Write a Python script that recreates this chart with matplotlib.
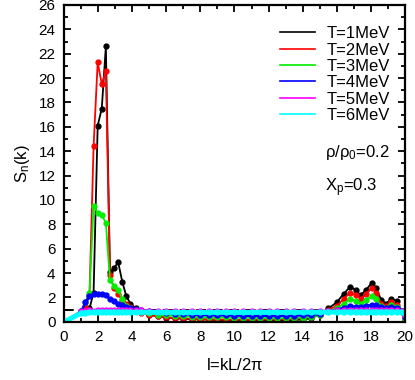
import matplotlib
matplotlib.use("Agg")
import matplotlib.pyplot as plt
from matplotlib.ticker import MultipleLocator

plt.rcParams['font.family'] = ['Liberation Sans', 'DejaVu Sans']
plt.rcParams['mathtext.fontset'] = 'custom'
plt.rcParams['mathtext.rm'] = 'Liberation Sans'
plt.rcParams['mathtext.it'] = 'Liberation Sans'

l = [0, 1.02, 1.26, 1.5, 1.74, 1.98, 2.22, 2.46, 2.70, 2.94, 3.18, 3.42, 3.66, 3.90,
     4.2, 4.5, 5.0, 5.5, 6.0, 6.5, 7.0, 7.5, 8.0, 8.5, 9.0, 9.5, 10.0, 10.5, 11.0, 11.5,
     12.0, 12.5, 13.0, 13.5, 14.0, 14.5, 15.0,
     15.5, 16.0, 16.4, 16.8, 17.1, 17.4, 17.7, 18.05, 18.3, 18.6, 18.9, 19.2, 19.5, 19.8, 20]

s_T1 = [0, 0.85, 0.95, 1.1, 2.4, 16.1, 17.5, 22.6, 4.1, 4.4, 4.9, 3.3, 2.1, 1.5,
        1.1, 0.9, 0.6, 0.45, 0.35, 0.3, 0.25, 0.22, 0.2, 0.18, 0.15, 0.12, 0.1, 0.1, 0.1, 0.1,
        0.1, 0.1, 0.12, 0.15, 0.2, 0.3, 0.6,
        1.1, 1.6, 2.3, 2.9, 2.6, 2.2, 2.6, 3.2, 2.8, 1.8, 1.5, 1.9, 1.7, 0.9, 0.2]
s_T2 = [0, 0.85, 1.2, 2.2, 14.4, 21.3, 19.5, 20.6, 3.85, 2.75, 2.3, 1.8, 1.5, 1.2,
        0.9, 0.75, 0.55, 0.45, 0.38, 0.32, 0.28, 0.25, 0.22, 0.2, 0.2, 0.18, 0.18, 0.18, 0.18, 0.2,
        0.2, 0.2, 0.22, 0.25, 0.3, 0.4, 0.6,
        1.0, 1.3, 1.9, 2.4, 2.2, 1.9, 2.3, 2.8, 2.4, 1.5, 1.3, 1.6, 1.4, 0.8, 0.2]
s_T3 = [0, 0.9, 1.6, 2.4, 9.5, 8.9, 8.8, 8.1, 3.4, 2.95, 2.6, 1.9, 1.3, 1.1,
        0.95, 0.85, 0.7, 0.6, 0.55, 0.5, 0.45, 0.42, 0.4, 0.39, 0.38, 0.36, 0.35, 0.34, 0.33, 0.32,
        0.32, 0.31, 0.3, 0.33, 0.35, 0.42, 0.55,
        0.9, 1.1, 1.5, 1.9, 1.7, 1.5, 1.8, 2.1, 1.9, 1.3, 1.1, 1.4, 1.2, 0.8, 0.2]
s_T4 = [0, 0.85, 1.6, 2.1, 2.27, 2.3, 2.3, 2.2, 1.86, 1.7, 1.5, 1.4, 1.25, 1.15,
        1.05, 1.0, 0.85, 0.78, 0.72, 0.68, 0.64, 0.6, 0.58, 0.56, 0.55, 0.54, 0.52, 0.51, 0.5, 0.5,
        0.5, 0.5, 0.5, 0.52, 0.53, 0.58, 0.65,
        0.85, 1.0, 1.15, 1.3, 1.25, 1.2, 1.3, 1.4, 1.35, 1.2, 1.1, 1.2, 1.15, 0.9, 0.4]
s_T5 = [0, 0.85, 0.9, 0.95, 0.9, 1.0, 0.95, 0.98, 0.95, 0.97, 0.95, 0.95, 0.94, 0.95,
        0.95, 0.94, 0.93, 0.93, 0.92, 0.92, 0.92, 0.92, 0.92, 0.92, 0.92, 0.92, 0.92, 0.92, 0.92, 0.92,
        0.92, 0.92, 0.92, 0.92, 0.92, 0.92, 0.93,
        0.93, 0.94, 0.95, 0.95, 0.95, 0.94, 0.95, 0.96, 0.96, 0.95, 0.95, 0.95, 0.94, 0.9, 0.6]
s_T6 = [0, 0.72, 0.76, 0.78, 0.8, 0.8, 0.8, 0.8, 0.8, 0.8, 0.8, 0.79, 0.79, 0.79,
        0.78, 0.78, 0.78, 0.77, 0.77, 0.77, 0.77, 0.77, 0.77, 0.77, 0.77, 0.77, 0.77, 0.77, 0.77, 0.78,
        0.78, 0.78, 0.78, 0.78, 0.78, 0.79, 0.79,
        0.8, 0.8, 0.8, 0.81, 0.81, 0.81, 0.81, 0.81, 0.81, 0.81, 0.81, 0.81, 0.81, 0.8, 0.7]

series = [s_T1, s_T2, s_T3, s_T4, s_T5, s_T6]
labels = ['T=1MeV', 'T=2MeV', 'T=3MeV', 'T=4MeV', 'T=5MeV', 'T=6MeV']
colors = ['#000000', '#ff0000', '#00ee00', '#0000ff', '#ff00ff', '#00ffff']
widths = [1.3, 1.3, 1.3, 1.8, 1.3, 3.5]

fig = plt.figure(figsize=(4.15, 3.8), dpi=100)
ax = fig.add_axes([0.154, 0.153, 0.822, 0.834])

ax.axhline(1.0, color='black', lw=1.4, ls=(0, (5, 3.5)), zorder=1)

for s, lab, c, w in zip(series, labels, colors, widths):
    ax.plot(l, s, color=c, lw=w, marker='o', ms=3.5, label=lab, zorder=2)

ax.set_xlim(0, 20)
ax.set_ylim(0, 26)
ax.xaxis.set_major_locator(MultipleLocator(2))
ax.xaxis.set_minor_locator(MultipleLocator(1))
ax.yaxis.set_major_locator(MultipleLocator(2))
ax.yaxis.set_minor_locator(MultipleLocator(1))
ax.tick_params(which='both', direction='in', top=True, right=True, labelsize=11, width=1.3)
ax.tick_params(which='major', length=5, pad=6)
ax.tick_params(which='minor', length=3)
for sp in ax.spines.values():
    sp.set_linewidth(1.6)

ax.set_xlabel(r'l=kL/2$\pi$', fontsize=12, labelpad=9)
ax.set_ylabel(r'S$_\mathrm{n}$(k)', fontsize=12, labelpad=5)

leg = ax.legend(loc='upper right', frameon=False, fontsize=12, handlelength=2.1,
                handletextpad=0.7, labelspacing=0.08, markerscale=0,
                bbox_to_anchor=(1.0, 0.98))
for h in leg.get_lines():
    h.set_marker('')
    h.set_linewidth(1.2)

ax.text(0.765, 0.533, r'$\rho/\rho_0$=0.2', transform=ax.transAxes, fontsize=12, va='center')
ax.text(0.765, 0.423, r'X$_\mathrm{p}$=0.3', transform=ax.transAxes, fontsize=12, va='center')

fig.savefig('out.png', dpi=100)
